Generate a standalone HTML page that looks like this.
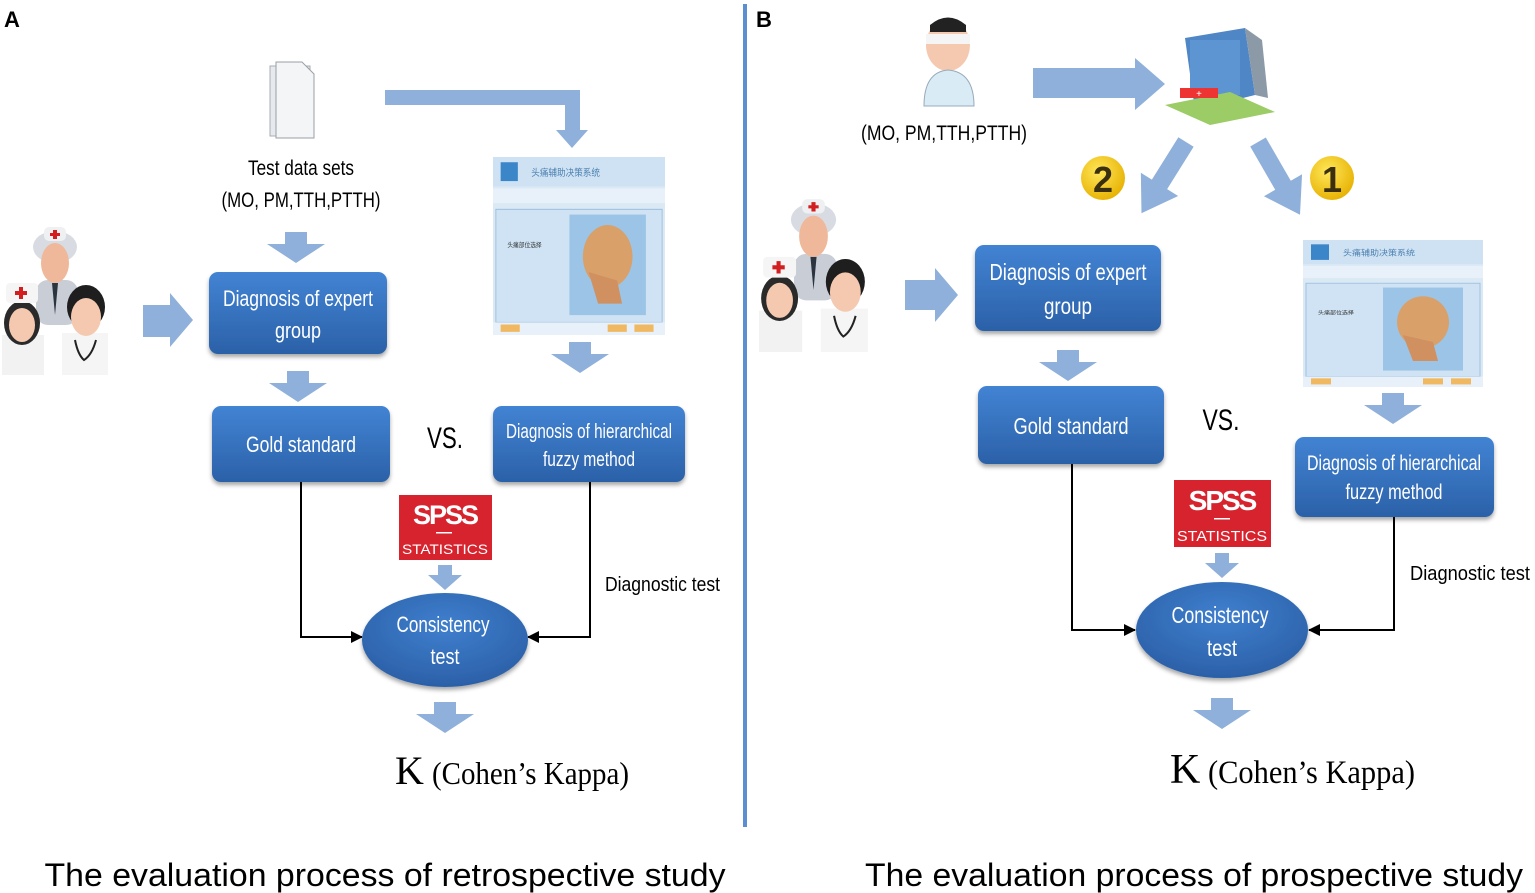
<!DOCTYPE html>
<html><head><meta charset="utf-8"><style>
html,body{margin:0;padding:0;background:#fff;}
svg{display:block;}
.nar{font-family:"Liberation Sans Narrow","Liberation Sans",sans-serif;}
</style></head><body>
<svg width="1535" height="893" viewBox="0 0 1535 893" xmlns="http://www.w3.org/2000/svg">
<defs>
<linearGradient id="bx" x1="0" y1="0" x2="0" y2="1">
<stop offset="0" stop-color="#4283d3"/><stop offset="1" stop-color="#2b61a8"/></linearGradient>
<radialGradient id="el" cx="0.5" cy="0.35" r="0.7">
<stop offset="0" stop-color="#3f7fce"/><stop offset="1" stop-color="#2a5ea5"/></radialGradient>
<radialGradient id="gold" cx="0.4" cy="0.35" r="0.7">
<stop offset="0" stop-color="#ffe75a"/><stop offset="1" stop-color="#e6b000"/></radialGradient>
<filter id="sh" x="-10%" y="-10%" width="120%" height="130%"><feDropShadow dx="0" dy="3" stdDeviation="2" flood-color="#000" flood-opacity="0.35"/></filter>
<polygon id="da" points="-11,0 11,0 11,12 29,12 0,31 -29,12 -11,12" fill="#8fb0da"/>
<marker id="ah" markerWidth="12" markerHeight="12" refX="11" refY="6" orient="auto" markerUnits="userSpaceOnUse"><path d="M0,0 L12,6 L0,12 Z" fill="#000"/></marker>
<symbol id="people" viewBox="0 0 110 150" preserveAspectRatio="none">
<rect x="36" y="55" width="42" height="45" rx="12" fill="#c9ced6"/>
<path d="M52,58 L55,90 L58,58 Z" fill="#2c3440"/>
<ellipse cx="55" cy="22" rx="22" ry="16" fill="#d8dce2"/>
<ellipse cx="55" cy="38" rx="14" ry="20" fill="#f0b89a"/>
<rect x="44" y="2" width="22" height="14" rx="5" fill="#eef0f2"/>
<path d="M53,5h4v3h3v3h-3v3h-4v-3h-3v-3h3z" fill="#d21e1e"/>
<rect x="2" y="110" width="42" height="40" fill="#f2f2f2"/>
<ellipse cx="22" cy="98" rx="18" ry="22" fill="#2a2a2a"/>
<ellipse cx="22" cy="100" rx="13" ry="17" fill="#f4c9b0"/>
<rect x="6" y="58" width="32" height="20" rx="4" fill="#f5f5f5"/>
<path d="M19,62h4v4h4v4h-4v4h-4v-4h-4v-4h4z" fill="#d21e1e"/>
<rect x="62" y="108" width="46" height="42" fill="#f5f5f5"/>
<ellipse cx="86" cy="82" rx="19" ry="22" fill="#1e1e1e"/>
<ellipse cx="86" cy="92" rx="15" ry="19" fill="#f4c9b0"/>
<path d="M75,115 Q78,130 84,135 Q92,130 96,115" fill="none" stroke="#222" stroke-width="2"/>
</symbol>
<symbol id="soft" viewBox="0 0 180 170" preserveAspectRatio="none">
<rect x="0" y="0" width="180" height="170" fill="#dbe9f5"/>
<rect x="0" y="0" width="180" height="28" fill="#cfe2f3"/>
<rect x="8" y="5" width="18" height="18" fill="#3a86c8"/>
<text x="40" y="18" font-size="9" fill="#4a7fb0" font-family="Noto Sans CJK SC,sans-serif">头痛辅助决策系统</text>
<rect x="0" y="30" width="180" height="14" fill="#e8f1f9"/>
<rect x="3" y="50" width="174" height="108" fill="#cfe3f4" stroke="#9fc1df"/>
<rect x="80" y="55" width="80" height="96" fill="#9cc4e6"/>
<ellipse cx="120" cy="95" rx="26" ry="30" fill="#d9a06a"/>
<path d="M100,110 L110,140 L135,140 L130,118 Z" fill="#d09060"/>
<text x="15" y="86" font-size="6" fill="#333" font-family="Noto Sans CJK SC,sans-serif">头痛部位选择</text>
<rect x="0" y="158" width="180" height="12" fill="#e8f1f9"/>
<rect x="8" y="160" width="20" height="7" fill="#f0b860"/>
<rect x="120" y="160" width="20" height="7" fill="#f0b860"/>
<rect x="148" y="160" width="20" height="7" fill="#f0b860"/>
</symbol>
</defs>

<text x="4" y="27" font-family="Liberation Sans,sans-serif" font-weight="bold" font-size="22">A</text>
<text x="756" y="27" font-family="Liberation Sans,sans-serif" font-weight="bold" font-size="22">B</text>
<rect x="743" y="4" width="4" height="823" fill="#5b8fd0"/>

<!-- Panel A -->
<g>
<rect x="270" y="66" width="40" height="70" fill="#e6eaee" stroke="#a8adb3"/>
<path d="M276,62 h26 l12,12 v64 h-38 z" fill="#f3f5f7" stroke="#9aa0a6"/>
<text x="301" y="175" text-anchor="middle" class="nar" font-size="21" textLength="106" lengthAdjust="spacingAndGlyphs">Test data sets</text>
<text x="301" y="207" text-anchor="middle" class="nar" font-size="21" textLength="159" lengthAdjust="spacingAndGlyphs">(MO, PM,TTH,PTTH)</text>
<use href="#da" x="296" y="232"/>
<rect x="209" y="272" width="178" height="82" rx="9" fill="url(#bx)" filter="url(#sh)"/>
<text x="298" y="306" text-anchor="middle" class="nar" font-size="22" fill="#fff" textLength="150" lengthAdjust="spacingAndGlyphs">Diagnosis of expert</text>
<text x="298" y="338" text-anchor="middle" class="nar" font-size="22" fill="#fff" textLength="46" lengthAdjust="spacingAndGlyphs">group</text>
<use href="#da" x="298" y="371"/>
<rect x="212" y="406" width="178" height="76" rx="9" fill="url(#bx)" filter="url(#sh)"/>
<text x="301" y="452" text-anchor="middle" class="nar" font-size="22" fill="#fff" textLength="110" lengthAdjust="spacingAndGlyphs">Gold standard</text>
<text x="445" y="448" text-anchor="middle" class="nar" font-size="30" textLength="36" lengthAdjust="spacingAndGlyphs">VS.</text>
<path d="M385,90 H580 V130 H588 L572,148 L556,130 H565 V105 H385 Z" fill="#8fb0da"/>
<use href="#soft" x="493" y="157" width="172" height="178"/>
<use href="#da" x="580" y="342"/>
<rect x="493" y="406" width="192" height="76" rx="9" fill="url(#bx)" filter="url(#sh)"/>
<text x="589" y="438" text-anchor="middle" class="nar" font-size="20" fill="#fff" textLength="166" lengthAdjust="spacingAndGlyphs">Diagnosis of hierarchical</text>
<text x="589" y="466" text-anchor="middle" class="nar" font-size="20" fill="#fff" textLength="92" lengthAdjust="spacingAndGlyphs">fuzzy method</text>
<rect x="399" y="495" width="93" height="65" fill="#d7232d"/>
<text x="445" y="524" text-anchor="middle" font-family="Liberation Sans,sans-serif" font-weight="bold" font-size="27" fill="#fff" letter-spacing="-2">SPSS</text>
<rect x="436" y="532" width="16" height="1.5" fill="#fff"/>
<text x="445" y="554" text-anchor="middle" font-family="Liberation Sans,sans-serif" font-size="14" fill="#fff" textLength="86" lengthAdjust="spacingAndGlyphs">STATISTICS</text>
<polygon points="438,565 452,565 452,575 462,575 445,590 428,575 438,575" fill="#8fb0da"/>
<path d="M301,482 V637 H362" fill="none" stroke="#000" stroke-width="2" marker-end="url(#ah)"/>
<path d="M590,482 V637 H528" fill="none" stroke="#000" stroke-width="2" marker-end="url(#ah)"/>
<ellipse cx="445" cy="640" rx="83" ry="47" fill="url(#el)" filter="url(#sh)"/>
<text x="443" y="632" text-anchor="middle" class="nar" font-size="22" fill="#fff" textLength="93" lengthAdjust="spacingAndGlyphs">Consistency</text>
<text x="445" y="664" text-anchor="middle" class="nar" font-size="22" fill="#fff" textLength="29" lengthAdjust="spacingAndGlyphs">test</text>
<text x="605" y="591" class="nar" font-size="20" textLength="115" lengthAdjust="spacingAndGlyphs">Diagnostic test</text>
<use href="#da" x="445" y="702"/>
<text x="395" y="784" font-family="Liberation Serif,serif" font-size="40">K</text>
<text x="432" y="784" font-family="Liberation Serif,serif" font-size="32" textLength="197" lengthAdjust="spacingAndGlyphs">(Cohen’s Kappa)</text>
<polygon points="143,305 170,305 170,293 193,320 170,347 170,337 143,337" fill="#8fb0da"/>
<use href="#people" x="0" y="225" width="110" height="150"/>
<text x="385" y="886" text-anchor="middle" font-family="Liberation Sans,sans-serif" font-size="32" textLength="681" lengthAdjust="spacingAndGlyphs">The evaluation process of retrospective study</text>
</g>

<!-- Panel B -->
<g>
<ellipse cx="948" cy="45" rx="22" ry="26" fill="#f4c9b0"/>
<path d="M930,25 Q948,10 966,25 L966,32 L930,32 Z" fill="#222"/>
<rect x="926" y="34" width="44" height="10" fill="#f5f5f5"/>
<path d="M924,106 Q924,72 948,70 Q974,72 974,106 Z" fill="#d9ecf5" stroke="#9ab"/>
<text x="944" y="140" text-anchor="middle" class="nar" font-size="21" textLength="166" lengthAdjust="spacingAndGlyphs">(MO, PM,TTH,PTTH)</text>
<polygon points="1033,68 1135,68 1135,58 1165,84 1135,110 1135,98 1033,98" fill="#8fb0da"/>
<polygon points="1185,38 1245,28 1255,95 1195,110" fill="#4f86c6"/>
<polygon points="1245,28 1262,40 1268,98 1255,95" fill="#8c9aa8"/>
<rect x="1190" y="40" width="50" height="55" fill="#5c95d2"/>
<polygon points="1165,105 1230,92 1275,112 1210,125" fill="#9ccc66"/>
<rect x="1180" y="88" width="38" height="10" fill="#e33"/>
<text x="1199" y="97" text-anchor="middle" font-size="10" fill="#fff" font-weight="bold">+</text>
<g transform="translate(1186,142) rotate(32)"><polygon points="-9,0 9,0 9,50 22,50 0,84 -22,50 -9,50" fill="#8fb0da"/></g>
<g transform="translate(1258,142) rotate(-30)"><polygon points="-9,0 9,0 9,50 22,50 0,84 -22,50 -9,50" fill="#8fb0da"/></g>
<circle cx="1103" cy="178" r="22" fill="url(#gold)"/>
<text x="1103" y="192" text-anchor="middle" font-family="Liberation Sans,sans-serif" font-weight="bold" font-size="36" fill="#3a3010">2</text>
<circle cx="1332" cy="178" r="22" fill="url(#gold)"/>
<text x="1332" y="192" text-anchor="middle" font-family="Liberation Sans,sans-serif" font-weight="bold" font-size="36" fill="#3a3010">1</text>
<use href="#people" x="757" y="197" width="113" height="155"/>
<polygon points="905,280 935,280 935,268 958,295 935,322 935,310 905,310" fill="#8fb0da"/>
<rect x="975" y="245" width="186" height="86" rx="9" fill="url(#bx)" filter="url(#sh)"/>
<text x="1068" y="280" text-anchor="middle" class="nar" font-size="23" fill="#fff" textLength="157" lengthAdjust="spacingAndGlyphs">Diagnosis of expert</text>
<text x="1068" y="314" text-anchor="middle" class="nar" font-size="23" fill="#fff" textLength="48" lengthAdjust="spacingAndGlyphs">group</text>
<use href="#da" x="1068" y="350"/>
<rect x="978" y="386" width="186" height="78" rx="9" fill="url(#bx)" filter="url(#sh)"/>
<text x="1071" y="434" text-anchor="middle" class="nar" font-size="23" fill="#fff" textLength="115" lengthAdjust="spacingAndGlyphs">Gold standard</text>
<text x="1221" y="430" text-anchor="middle" class="nar" font-size="30" textLength="37" lengthAdjust="spacingAndGlyphs">VS.</text>
<use href="#soft" x="1303" y="240" width="180" height="147"/>
<use href="#da" x="1393" y="393"/>
<rect x="1295" y="437" width="199" height="80" rx="9" fill="url(#bx)" filter="url(#sh)"/>
<text x="1394" y="470" text-anchor="middle" class="nar" font-size="21" fill="#fff" textLength="174" lengthAdjust="spacingAndGlyphs">Diagnosis of hierarchical</text>
<text x="1394" y="499" text-anchor="middle" class="nar" font-size="21" fill="#fff" textLength="97" lengthAdjust="spacingAndGlyphs">fuzzy method</text>
<rect x="1174" y="480" width="97" height="67" fill="#d7232d"/>
<text x="1222" y="510" text-anchor="middle" font-family="Liberation Sans,sans-serif" font-weight="bold" font-size="28" fill="#fff" letter-spacing="-2">SPSS</text>
<rect x="1214" y="518" width="16" height="1.5" fill="#fff"/>
<text x="1222" y="541" text-anchor="middle" font-family="Liberation Sans,sans-serif" font-size="15" fill="#fff" textLength="90" lengthAdjust="spacingAndGlyphs">STATISTICS</text>
<polygon points="1215,553 1229,553 1229,563 1239,563 1222,578 1205,563 1215,563" fill="#8fb0da"/>
<path d="M1072,464 V630 H1135" fill="none" stroke="#000" stroke-width="2" marker-end="url(#ah)"/>
<path d="M1394,517 V630 H1309" fill="none" stroke="#000" stroke-width="2" marker-end="url(#ah)"/>
<ellipse cx="1222" cy="630" rx="86" ry="48" fill="url(#el)" filter="url(#sh)"/>
<text x="1220" y="623" text-anchor="middle" class="nar" font-size="23" fill="#fff" textLength="97" lengthAdjust="spacingAndGlyphs">Consistency</text>
<text x="1222" y="656" text-anchor="middle" class="nar" font-size="23" fill="#fff" textLength="30" lengthAdjust="spacingAndGlyphs">test</text>
<text x="1410" y="580" class="nar" font-size="20" textLength="120" lengthAdjust="spacingAndGlyphs">Diagnostic test</text>
<use href="#da" x="1222" y="698"/>
<text x="1170" y="783" font-family="Liberation Serif,serif" font-size="42">K</text>
<text x="1208" y="783" font-family="Liberation Serif,serif" font-size="33" textLength="207" lengthAdjust="spacingAndGlyphs">(Cohen’s Kappa)</text>
<text x="1194" y="886" text-anchor="middle" font-family="Liberation Sans,sans-serif" font-size="32" textLength="658" lengthAdjust="spacingAndGlyphs">The evaluation process of prospective study</text>
</g>
</svg>
</body></html>
